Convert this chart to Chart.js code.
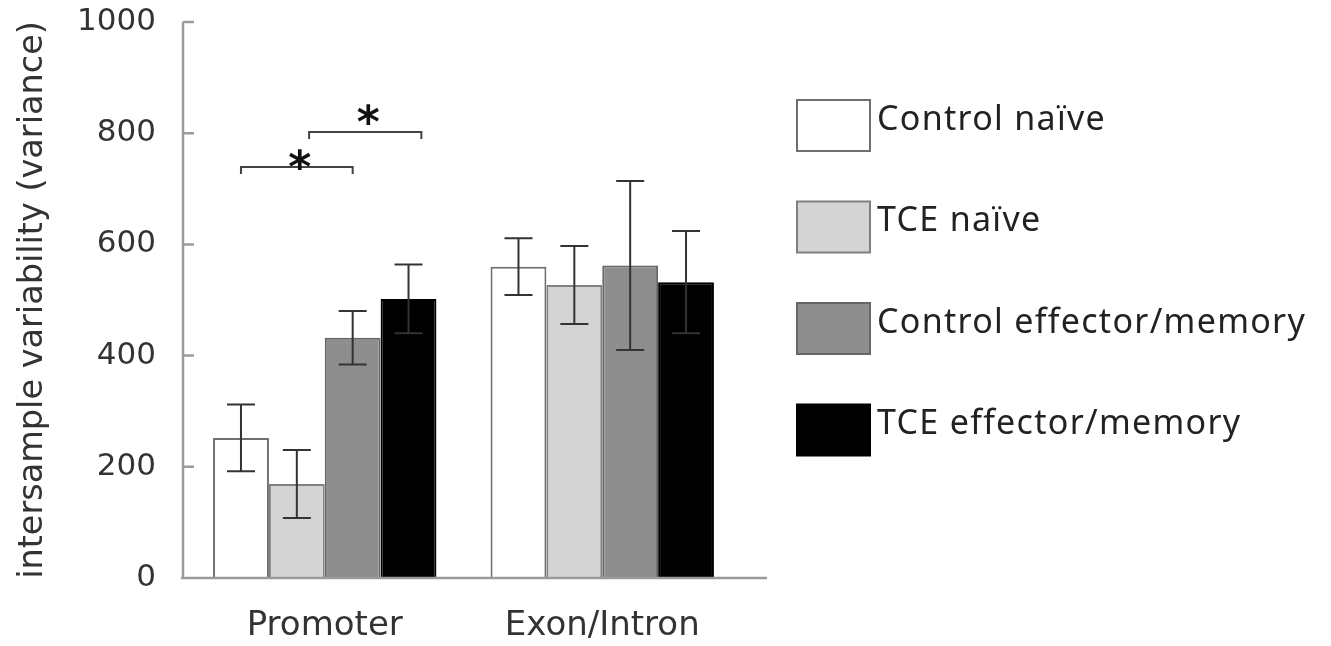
<!DOCTYPE html>
<html>
<head>
<meta charset="utf-8">
<script src="https://cdn.jsdelivr.net/npm/chart.js@4.4.0/dist/chart.umd.min.js"></script>
<style>
  html, body { margin: 0; padding: 0; background: #fff; }
  #wrap { width: 1331px; height: 646px; position: relative; }
</style>
</head>
<body>
<div id="wrap"><canvas id="varChart"></canvas></div>
<script>
// values
const categories = ['Promoter', 'Exon/Intron'];
const seriesNames = ['Control naïve', 'TCE naïve', 'Control effector/memory', 'TCE effector/memory'];
const controlNaive = [252, 560];
const tceNaive = [169, 527];
const controlEffector = [432, 562];
const tceEffector = [502, 532];
const controlNaiveErr = [60, 51];
const tceNaiveErr = [61, 70];
const controlEffectorErr = [48, 152];
const tceEffectorErr = [62, 92];
const yTicks = [0, 200, 400, 600, 800, 1000];
// significance brackets (category, from series, to series, line value, star value)
const bracketCat = [0, 0];
const bracketFrom = [0, 1.22];
const bracketTo = [2, 3.23];
const bracketY = [739, 802];
const starY = [760, 842];

const fills = ['#ffffff', '#d4d4d4', '#8e8e8e', '#000000'];
const edges = ['#6f6f6f', '#808080', '#666666', '#000000'];
const values = [controlNaive, tceNaive, controlEffector, tceEffector];
const errors = [controlNaiveErr, tceNaiveErr, controlEffectorErr, tceEffectorErr];

const AXIS_FONT = 'DejaVu Sans';

const extras = {
  id: 'extras',
  afterDatasetsDraw(chart) {
    const ctx = chart.ctx;
    const area = chart.chartArea;
    const y = chart.scales.y;

    // axes with inward ticks
    ctx.save();
    ctx.strokeStyle = '#9a9a9a';
    ctx.lineWidth = 2.5;
    const ax = area.left - 3;
    ctx.beginPath();
    ctx.moveTo(ax, y.getPixelForValue(0));
    ctx.lineTo(ax, y.getPixelForValue(1000));
    ctx.moveTo(area.left - 5, y.getPixelForValue(0));
    ctx.lineTo(area.right + 26, y.getPixelForValue(0));
    yTicks.forEach(t => {
      const py = y.getPixelForValue(t);
      ctx.moveTo(ax, py);
      ctx.lineTo(ax + 11, py);
    });
    ctx.stroke();
    ctx.restore();

    // error bars
    ctx.save();
    ctx.strokeStyle = '#333';
    ctx.lineWidth = 2;
    values.forEach((vals, d) => {
      const meta = chart.getDatasetMeta(d);
      meta.data.forEach((bar, i) => {
        const top = y.getPixelForValue(vals[i] + errors[d][i]);
        const bot = y.getPixelForValue(vals[i] - errors[d][i]);
        const cap = 14;
        ctx.beginPath();
        ctx.moveTo(bar.x, top); ctx.lineTo(bar.x, bot);
        ctx.moveTo(bar.x - cap, top); ctx.lineTo(bar.x + cap, top);
        ctx.moveTo(bar.x - cap, bot); ctx.lineTo(bar.x + cap, bot);
        ctx.stroke();
      });
    });
    ctx.restore();

    // significance brackets
    const xAt = (cat, s) => {
      const lo = Math.min(Math.floor(s), 2);
      const a = chart.getDatasetMeta(lo).data[cat].x;
      const b = chart.getDatasetMeta(lo + 1).data[cat].x;
      return a + (b - a) * (s - lo);
    };
    ctx.save();
    ctx.strokeStyle = '#444';
    ctx.lineWidth = 2;
    ctx.fillStyle = '#111';
    ctx.font = 'bold 44px ' + AXIS_FONT;
    ctx.textAlign = 'center';
    ctx.textBaseline = 'alphabetic';
    bracketY.forEach((v, k) => {
      const x1 = xAt(bracketCat[k], bracketFrom[k]);
      const x2 = xAt(bracketCat[k], bracketTo[k]);
      const py = y.getPixelForValue(v);
      ctx.beginPath();
      ctx.moveTo(x1, py + 7); ctx.lineTo(x1, py);
      ctx.lineTo(x2, py); ctx.lineTo(x2, py + 7);
      ctx.stroke();
      ctx.fillText('*', (x1 + x2) / 2 + 3, y.getPixelForValue(starY[k]) + 27);
    });
    ctx.restore();

    // legend
    ctx.save();
    ctx.font = '34px "Noto Sans"';
    ctx.letterSpacing = '1.3px';
    ctx.textAlign = 'left';
    ctx.textBaseline = 'middle';
    const lx = area.right + 56;
    seriesNames.forEach((name, i) => {
      const top = 100 + i * 101.5;
      ctx.fillStyle = fills[i];
      ctx.fillRect(lx, top, 73, 51);
      ctx.strokeStyle = edges[i];
      ctx.lineWidth = 2;
      ctx.strokeRect(lx, top, 73, 51);
      ctx.fillStyle = '#222';
      ctx.fillText(name, lx + 80, top + 20);
    });
    ctx.restore();
  }
};

const ctx = document.getElementById('varChart').getContext('2d');
const varChart = new Chart(ctx, {
  type: 'bar',
  data: {
    labels: categories,
    datasets: seriesNames.map((name, i) => ({
      label: name,
      data: values[i],
      backgroundColor: fills[i],
      borderColor: edges[i],
      borderWidth: 2,
      categoryPercentage: 0.805,
      barPercentage: 1
    }))
  },
  plugins: [extras],
  options: {
    responsive: true,
    maintainAspectRatio: false,
    animation: false,
    layout: { padding: { top: 22, right: 590, left: 0, bottom: 0 } },
    plugins: {
      legend: { display: false },
      tooltip: { enabled: false }
    },
    scales: {
      x: {
        grid: { display: false, drawTicks: false },
        border: { display: false },
        ticks: { font: { family: AXIS_FONT, size: 34 }, color: '#333', padding: 28 },
        afterFit(scale) { scale.height = 68; }
      },
      y: {
        min: 0,
        max: 1000,
        afterBuildTicks(scale) { scale.ticks = yTicks.map(v => ({ value: v })); },
        grid: { display: false, drawTicks: false },
        border: { display: false },
        ticks: {
          font: { family: AXIS_FONT, size: 31 },
          color: '#333',
          padding: 30,
          callback: v => String(v)
        },
        title: {
          display: true,
          text: 'intersample variability (variance)',
          font: { family: AXIS_FONT, size: 33.5 },
          color: '#333',
          padding: { top: 13, bottom: 0 }
        },
        afterFit(scale) {
          scale.width = 186;
          scale.paddingTop = 0;
          scale.paddingBottom = 0;
        }
      }
    }
  }
});
</script>
</body>
</html>
